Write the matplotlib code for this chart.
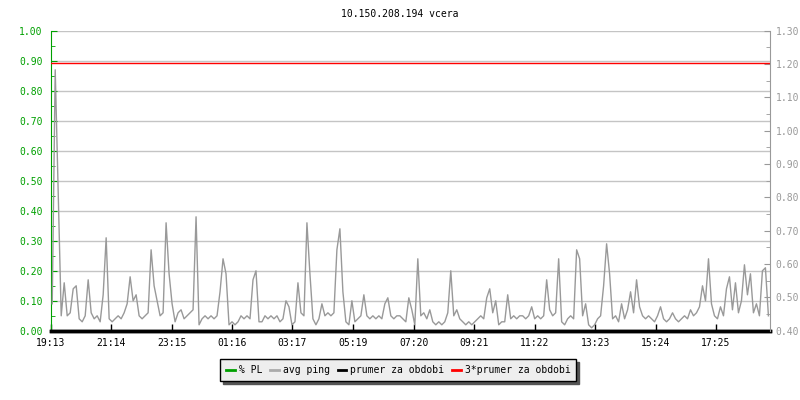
import numpy as np
import matplotlib.pyplot as plt
from matplotlib.ticker import MultipleLocator, FormatStrFormatter
from matplotlib.lines import Line2D

plt.rcParams['font.family'] = ['DejaVu Sans Mono']

title = "10.150.208.194 vcera"
tick_labels = ["19:13", "21:14", "23:15", "01:16", "03:17", "05:19",
               "07:20", "09:21", "11:22", "13:23", "15:24", "17:25"]
step_min = 6  # one sample every 6 minutes, starting 19:13

# avg ping (right axis)
ping = [0.481, 1.183, 0.814, 0.445, 0.544, 0.445, 0.454, 0.526, 0.535, 0.436,
        0.427, 0.445, 0.553, 0.454, 0.436, 0.445, 0.427, 0.508, 0.679, 0.436,
        0.427, 0.436, 0.445, 0.436, 0.454, 0.481, 0.562, 0.490, 0.508, 0.445,
        0.436, 0.445, 0.454, 0.643, 0.535, 0.490, 0.445, 0.454, 0.724, 0.571,
        0.481, 0.427, 0.454, 0.463, 0.436, 0.445, 0.454, 0.463, 0.742, 0.418,
        0.436, 0.445, 0.436, 0.445, 0.436, 0.445, 0.517, 0.616, 0.571, 0.418,
        0.427, 0.418, 0.427, 0.445, 0.436, 0.445, 0.436, 0.553, 0.580, 0.427,
        0.427, 0.445, 0.436, 0.445, 0.436, 0.445, 0.427, 0.436, 0.490, 0.472,
        0.418, 0.427, 0.544, 0.454, 0.445, 0.724, 0.571, 0.436, 0.418, 0.436,
        0.481, 0.445, 0.454, 0.445, 0.454, 0.643, 0.706, 0.517, 0.427, 0.418,
        0.490, 0.427, 0.436, 0.445, 0.508, 0.445, 0.436, 0.445, 0.436, 0.445,
        0.436, 0.481, 0.499, 0.445, 0.436, 0.445, 0.445, 0.436, 0.427, 0.499,
        0.463, 0.418, 0.616, 0.445, 0.454, 0.436, 0.463, 0.427, 0.418, 0.427,
        0.418, 0.427, 0.454, 0.580, 0.445, 0.463, 0.436, 0.427, 0.418, 0.427,
        0.418, 0.427, 0.436, 0.445, 0.436, 0.499, 0.526, 0.454, 0.490, 0.418,
        0.427, 0.427, 0.508, 0.436, 0.445, 0.436, 0.445, 0.445, 0.436, 0.445,
        0.472, 0.436, 0.445, 0.436, 0.445, 0.553, 0.463, 0.445, 0.454, 0.616,
        0.427, 0.418, 0.436, 0.445, 0.436, 0.643, 0.616, 0.445, 0.481, 0.418,
        0.409, 0.418, 0.436, 0.445, 0.535, 0.661, 0.571, 0.436, 0.445, 0.427,
        0.481, 0.436, 0.463, 0.517, 0.454, 0.553, 0.472, 0.445, 0.436, 0.445,
        0.436, 0.427, 0.445, 0.472, 0.436, 0.427, 0.436, 0.454, 0.436, 0.427,
        0.436, 0.445, 0.436, 0.463, 0.445, 0.454, 0.472, 0.535, 0.490, 0.616,
        0.481, 0.445, 0.436, 0.472, 0.445, 0.526, 0.562, 0.463, 0.544, 0.454,
        0.490, 0.598, 0.508, 0.571, 0.454, 0.481, 0.445, 0.580, 0.589, 0.445]
pl = [0.0] * len(ping)  # % PL stays at zero all day
prumer = 0.4007
prumer3 = 1.202

GREEN = '#00a000'
GRAY = '#999999'
FS = 7

def minutes(s):
    h, m = s.split(":")
    return int(h) * 60 + int(m)

t0 = minutes(tick_labels[0])
tick_pos = [(minutes(s) - t0) % 1440 for s in tick_labels]
t = np.arange(len(ping)) * step_min + step_min / 2

fig = plt.figure(figsize=(8, 4), dpi=100)
ax = fig.add_axes([0.0634, 0.173, 0.899, 0.75])
ax2 = ax.twinx()

ax.set_xlim(0, 1440)
ax.set_ylim(0, 1.0)
ax2.set_ylim(0.40, 1.30)

ax.yaxis.set_major_locator(MultipleLocator(0.1))
ax.yaxis.set_minor_locator(MultipleLocator(0.05))
ax.yaxis.set_major_formatter(FormatStrFormatter('%.2f'))
ax2.yaxis.set_major_locator(MultipleLocator(0.1))
ax2.yaxis.set_minor_locator(MultipleLocator(0.05))
ax2.yaxis.set_major_formatter(FormatStrFormatter('%.2f'))

ax.grid(axis='y', color='#c4c4c4', lw=1)
ax.set_axisbelow(True)

ax.plot(t, pl, color=GREEN, lw=1)
ax2.plot(t, ping, color=GRAY, lw=1)
ax2.axhline(prumer3, color='red', lw=1)
ax2.axhline(prumer, color='black', lw=2.5, clip_on=False)

ax.set_xticks(tick_pos)
ax.set_xticklabels(tick_labels)
ax.tick_params(axis='x', direction='in', length=5, width=1, color='black',
               labelsize=FS, pad=5)
ax.tick_params(axis='y', which='both', direction='in', colors=GREEN,
               labelsize=FS, pad=6)
ax.tick_params(axis='y', which='major', length=4)
ax.tick_params(axis='y', which='minor', length=3)
ax2.tick_params(axis='y', which='both', direction='in', colors=GRAY,
                labelsize=FS, pad=4)
ax2.tick_params(axis='y', which='major', length=4)
ax2.tick_params(axis='y', which='minor', length=3)

for s in ['top', 'right']:
    ax.spines[s].set_visible(False)
ax.spines['left'].set_color(GREEN)
ax.spines['bottom'].set_color('black')
ax.spines['bottom'].set_linewidth(2.5)
for s in ['top', 'left', 'bottom']:
    ax2.spines[s].set_visible(False)
ax2.spines['right'].set_color(GRAY)

fig.text(0.5, 0.965, title, ha='center', va='center', fontsize=FS)

handles = [Line2D([], [], color=GREEN, lw=2),
           Line2D([], [], color='#aaaaaa', lw=2),
           Line2D([], [], color='black', lw=2),
           Line2D([], [], color='red', lw=2)]
names = ["% PL", "avg ping", "prumer za obdobi", "3*prumer za obdobi"]
fig.legend(handles, names, loc='center', bbox_to_anchor=(0.498, 0.075),
           ncol=4, fontsize=FS, frameon=True, fancybox=False,
           edgecolor='black', facecolor='#eeeeee', framealpha=1,
           handlelength=0.9, handletextpad=0.4, columnspacing=0.8,
           borderpad=0.6, shadow={'color': '#555555', 'alpha': 1})

fig.savefig('out.png', dpi=100)
